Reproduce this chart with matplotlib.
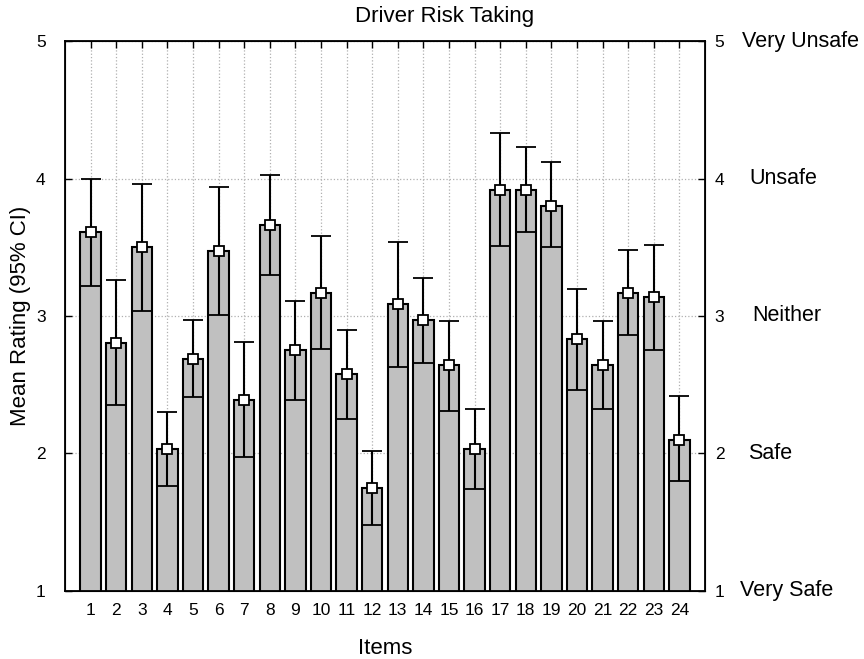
import numpy as np
import matplotlib.pyplot as plt

plt.rcParams['font.family'] = ['Liberation Sans', 'DejaVu Sans']

# item means with 95% confidence limits
items = np.arange(1, 25)
means = np.array([3.61, 2.80, 3.50, 2.03, 2.69, 3.47, 2.39, 3.66, 2.75, 3.17, 2.58, 1.75,
                  3.09, 2.97, 2.64, 2.03, 3.92, 3.92, 3.80, 2.83, 2.64, 3.17, 3.14, 2.10])
ci_low = np.array([3.22, 2.35, 3.04, 1.76, 2.41, 3.01, 1.97, 3.30, 2.39, 2.76, 2.25, 1.48,
                   2.63, 2.66, 2.31, 1.74, 3.51, 3.61, 3.50, 2.46, 2.32, 2.86, 2.75, 1.80])
ci_high = np.array([4.00, 3.26, 3.96, 2.30, 2.97, 3.94, 2.81, 4.03, 3.11, 3.58, 2.90, 2.02,
                    3.54, 3.28, 2.96, 2.32, 4.33, 4.23, 4.12, 3.20, 2.96, 3.48, 3.52, 2.42])
scale_ticks = [1, 2, 3, 4, 5]
scale_names = ["Very Safe", "Safe", "Neither", "Unsafe", "Very Unsafe"]
name_offsets = [740, 748, 752, 749, 742]  # left edge of each word, in pixels

W, H = 864, 659
fig = plt.figure(figsize=(W / 100, H / 100), dpi=100)
left, right, top, bottom = 65, 705, 41.4, 590.6
ax = fig.add_axes([left / W, 1 - bottom / H, (right - left) / W, (bottom - top) / H])

ax.bar(items, means, width=0.8, color="#c0c0c0", edgecolor="black", linewidth=1.5, zorder=2)
yerr = np.vstack([means - ci_low, ci_high - means])
ax.errorbar(items, means, yerr=yerr, fmt="s", color="black", ecolor="black",
            elinewidth=1.5, capsize=7, capthick=1.5, markersize=6.5,
            markerfacecolor="white", markeredgecolor="black", markeredgewidth=1.3, zorder=3)

ax.set_xlim(0, 25)
ax.set_ylim(1, 5)
ax.set_xticks(items)
ax.set_xticklabels([str(i) for i in items], fontsize=12.5)
ax.set_yticks(scale_ticks)
ax.set_yticklabels([str(t) for t in scale_ticks], fontsize=12.5)
ax.grid(True, linestyle=":", color="#b0b0b0", linewidth=0.9, zorder=0)
ax.set_axisbelow(True)
ax.tick_params(axis="x", direction="in", top=True, length=5, width=1, pad=9)
ax.tick_params(axis="y", direction="in", right=False, length=5, width=1, pad=14)
for s in ax.spines.values():
    s.set_linewidth(1.3)

ax.set_title("Driver Risk Taking", fontsize=16, x=(445 - left) / (right - left), pad=14)
ax.set_xlabel("Items", fontsize=16)
ax.xaxis.set_label_coords(0.5, (bottom - 638) / (bottom - top))
ax.set_ylabel("Mean Rating (95% CI)", fontsize=16)
ax.yaxis.set_label_coords((31 - left) / (right - left), 0.5)

# right-hand scale with verbal anchors
ax2 = ax.twinx()
ax2.set_ylim(1, 5)
ax2.set_yticks(scale_ticks)
ax2.set_yticklabels([str(t) for t in scale_ticks], fontsize=12.5)
ax2.tick_params(direction="in", length=5, width=1, pad=7)
for t, name, px in zip(scale_ticks, scale_names, name_offsets):
    y_fig = ax.transData.transform((0, t))[1] / fig.dpi / fig.get_figheight()
    fig.text(px / W, y_fig, name, fontsize=15.5, va="center", ha="left")

fig.savefig("out.png", dpi=100)
